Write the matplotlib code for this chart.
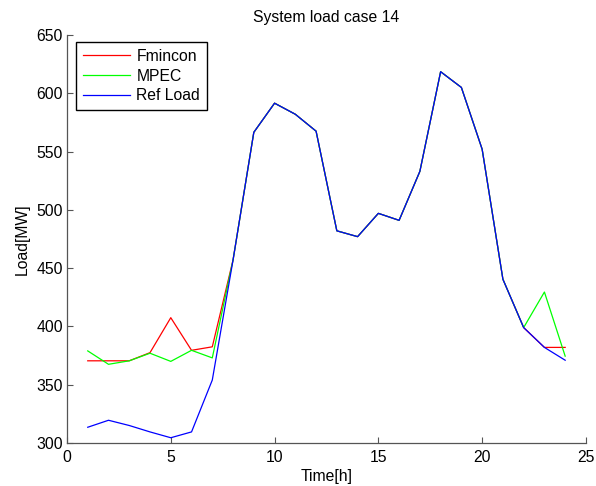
import matplotlib
matplotlib.use("Agg")
import matplotlib.pyplot as plt

# ---------------------------
# Data
# ---------------------------
hours = list(range(1, 25))
ref_load = [313.5, 319.5, 315, 309.5, 304.5, 309.5, 354, 457, 566.5, 591.5, 582, 567.5,
            482, 477, 497, 491, 533, 618.5, 605, 552, 440.5, 399, 382, 371]
fmincon = [370.5, 370.5, 370.5, 377.5, 407.5, 379.5, 382.5, 457, 566.5, 591.5, 582, 567.5,
           482, 477, 497, 491, 533, 618.5, 605, 552, 440.5, 399, 382, 382]
mpec = [379, 367.5, 370.5, 377, 370, 379.5, 373, 457, 566.5, 591.5, 582, 567.5,
        482, 477, 497, 491, 533, 618.5, 605, 552, 440.5, 399, 429.5, 374.5]

plt.rcParams['font.family'] = ['Liberation Sans', 'DejaVu Sans']
plt.rcParams['font.size'] = 11.3

fig = plt.figure(figsize=(5.96, 4.86), dpi=100)
ax = fig.add_axes([0.1124, 0.0885, 0.8707, 0.8395])

ax.plot(hours, fmincon, color="#ff0000", lw=0.9, label="Fmincon")
ax.plot(hours, mpec, color="#00ff00", lw=0.9, label="MPEC")
ax.plot(hours, ref_load, color="#0000ff", lw=0.9, label="Ref Load")

ax.set_xlim(0, 25)
ax.set_ylim(300, 650)
ax.set_xticks(range(0, 26, 5))
ax.set_yticks(range(300, 651, 50))
ax.tick_params(direction="in", length=4, color="#555555", labelcolor="black")
ax.tick_params(axis="x", pad=5)
ax.tick_params(axis="y", pad=3)
for s in ax.spines.values():
    s.set_color("#555555")
    s.set_linewidth(0.9)
ax.spines["top"].set_visible(False)
ax.spines["right"].set_visible(False)

ax.set_xlabel("Time[h]", labelpad=3)
ax.set_ylabel("Load[MW]", labelpad=5)
ax.set_title("System load case 14", fontsize=11.3, pad=9)

leg = ax.legend(loc="upper left", bbox_to_anchor=(0.0173, 0.983), borderaxespad=0,
                fancybox=False, edgecolor="black", framealpha=1, handlelength=3.0,
                borderpad=0.45, labelspacing=0.3, handletextpad=0.4, fontsize=11.3)
leg.get_frame().set_linewidth(1.0)

fig.savefig("out.png", dpi=100)
